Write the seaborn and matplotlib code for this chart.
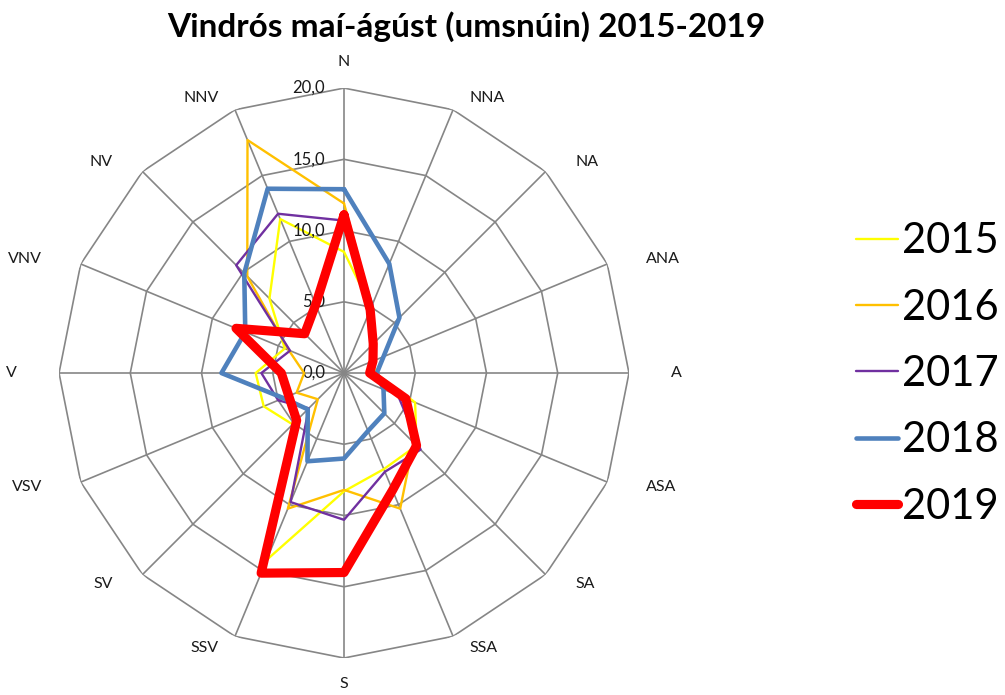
import numpy as np
import pandas as pd
import matplotlib
matplotlib.use('Agg')
import matplotlib.pyplot as plt
import seaborn as sns

directions = ['N', 'NNA', 'NA', 'ANA', 'A', 'ASA', 'SA', 'SSA',
              'S', 'SSV', 'SV', 'VSV', 'V', 'VNV', 'NV', 'NNV']
years = ['2015', '2016', '2017', '2018', '2019']

v2015 = [8.5, 5.0, 2.9, 2.2, 2.2, 5.4, 7.2, 7.3, 8.3, 14.2, 5.1, 6.1, 6.2, 4.5, 7.4, 11.7]
v2016 = [11.9, 5.1, 2.9, 2.2, 2.0, 4.9, 6.9, 10.3, 8.2, 10.3, 2.6, 3.6, 2.8, 4.2, 9.6, 17.7]
v2017 = [10.7, 5.2, 2.9, 2.2, 1.9, 4.1, 7.6, 7.5, 10.3, 9.8, 3.5, 5.0, 5.8, 4.1, 10.7, 12.1]
v2018 = [12.9, 8.3, 5.5, 3.0, 2.3, 3.0, 4.0, 4.4, 6.0, 6.7, 3.6, 4.6, 8.6, 7.5, 9.9, 14.0]
v2019 = [11.1, 4.8, 2.9, 2.2, 1.8, 4.7, 7.2, 8.9, 14.0, 15.2, 4.7, 4.2, 4.4, 8.2, 3.9, 5.2]

ring_values = [0, 5, 10, 15, 20]
ring_labels = ['0,0', '5,0', '10,0', '15,0', '20,0']

series = {'2015': v2015, '2016': v2016, '2017': v2017, '2018': v2018, '2019': v2019}
colors = {'2015': '#FFFF00', '2016': '#FFC000', '2017': '#7030A0',
          '2018': '#4F81BD', '2019': '#FF0000'}
widths = {'2015': 1.7, '2016': 1.7, '2017': 1.7, '2018': 3.3, '2019': 6.6}
grid_color = '#868686'
text_color = '#1a1a1a'

sns.set_theme(style='white')
plt.rcParams['font.family'] = ['Lato', 'DejaVu Sans']

fig = plt.figure(figsize=(10.05, 6.95), dpi=100)
ax = fig.add_axes([0.0587, 0.0532, 0.5672, 0.8201], projection='polar')
ax.set_theta_zero_location('N')
ax.set_theta_direction(-1)

theta = np.linspace(0, 2 * np.pi, len(directions), endpoint=False)
theta_closed = np.append(theta, 2 * np.pi)

# polygon grid like the spreadsheet radar chart
for r in ring_values[1:]:
    ax.plot(theta_closed, [r] * len(theta_closed), color=grid_color, lw=1.2, zorder=1)
for t in theta:
    ax.plot([t, t], [0, ring_values[-1]], color=grid_color, lw=1.2, zorder=1)

for i, y in enumerate(years):
    vals = series[y] + [series[y][0]]
    df = pd.DataFrame({'theta': theta_closed, 'value': vals})
    sns.lineplot(data=df, x='theta', y='value', ax=ax, sort=False,
                 color=colors[y], linewidth=widths[y], label=y,
                 solid_joinstyle='round', zorder=3 + i)

if ax.get_legend() is not None:
    ax.get_legend().remove()

ax.set_ylim(0, ring_values[-1])
ax.grid(False)
ax.spines['polar'].set_visible(False)
ax.set_xticks([])
ax.set_yticks([])
ax.set_xlabel('')
ax.set_ylabel('')

# category labels sit outside the outer polygon, pushed further out sideways
for t, d in zip(theta, directions):
    s, c = np.sin(t), np.cos(t)
    if abs(s) < 1e-6:
        ha, dx, dy = 'center', 0, 26 * np.sign(c)
    else:
        ha = 'left' if s > 0 else 'right'
        dx, dy = 42 * s, 13 * c
    ax.annotate(d, xy=(t, ring_values[-1]), xytext=(dx, dy),
                textcoords='offset pixels', ha=ha, va='center',
                fontsize=11.5, color=text_color)

for r, lab in zip(ring_values, ring_labels):
    ax.annotate(lab, xy=(0, r), xytext=(-19, 0), textcoords='offset pixels',
                ha='right', va='center', fontsize=12, color=text_color)

fig.text(0.464, 1 - 27 / 695, 'Vindrós maí-ágúst (umsnúin) 2015-2019',
         ha='center', va='center', fontsize=24, fontweight='bold', color='black')

handles, labels = ax.get_legend_handles_labels()
leg = fig.legend(handles, labels, loc='center left',
                 bbox_to_anchor=(856 / 1005, 1 - 374 / 695),
                 frameon=False, fontsize=30, handlelength=1.0,
                 handletextpad=0.1, labelspacing=0.68,
                 borderpad=0, borderaxespad=0)
for text in leg.get_texts():
    text.set_color('black')
for line in leg.get_lines():
    line.set_solid_capstyle('round')

fig.savefig('out.png', dpi=100)
